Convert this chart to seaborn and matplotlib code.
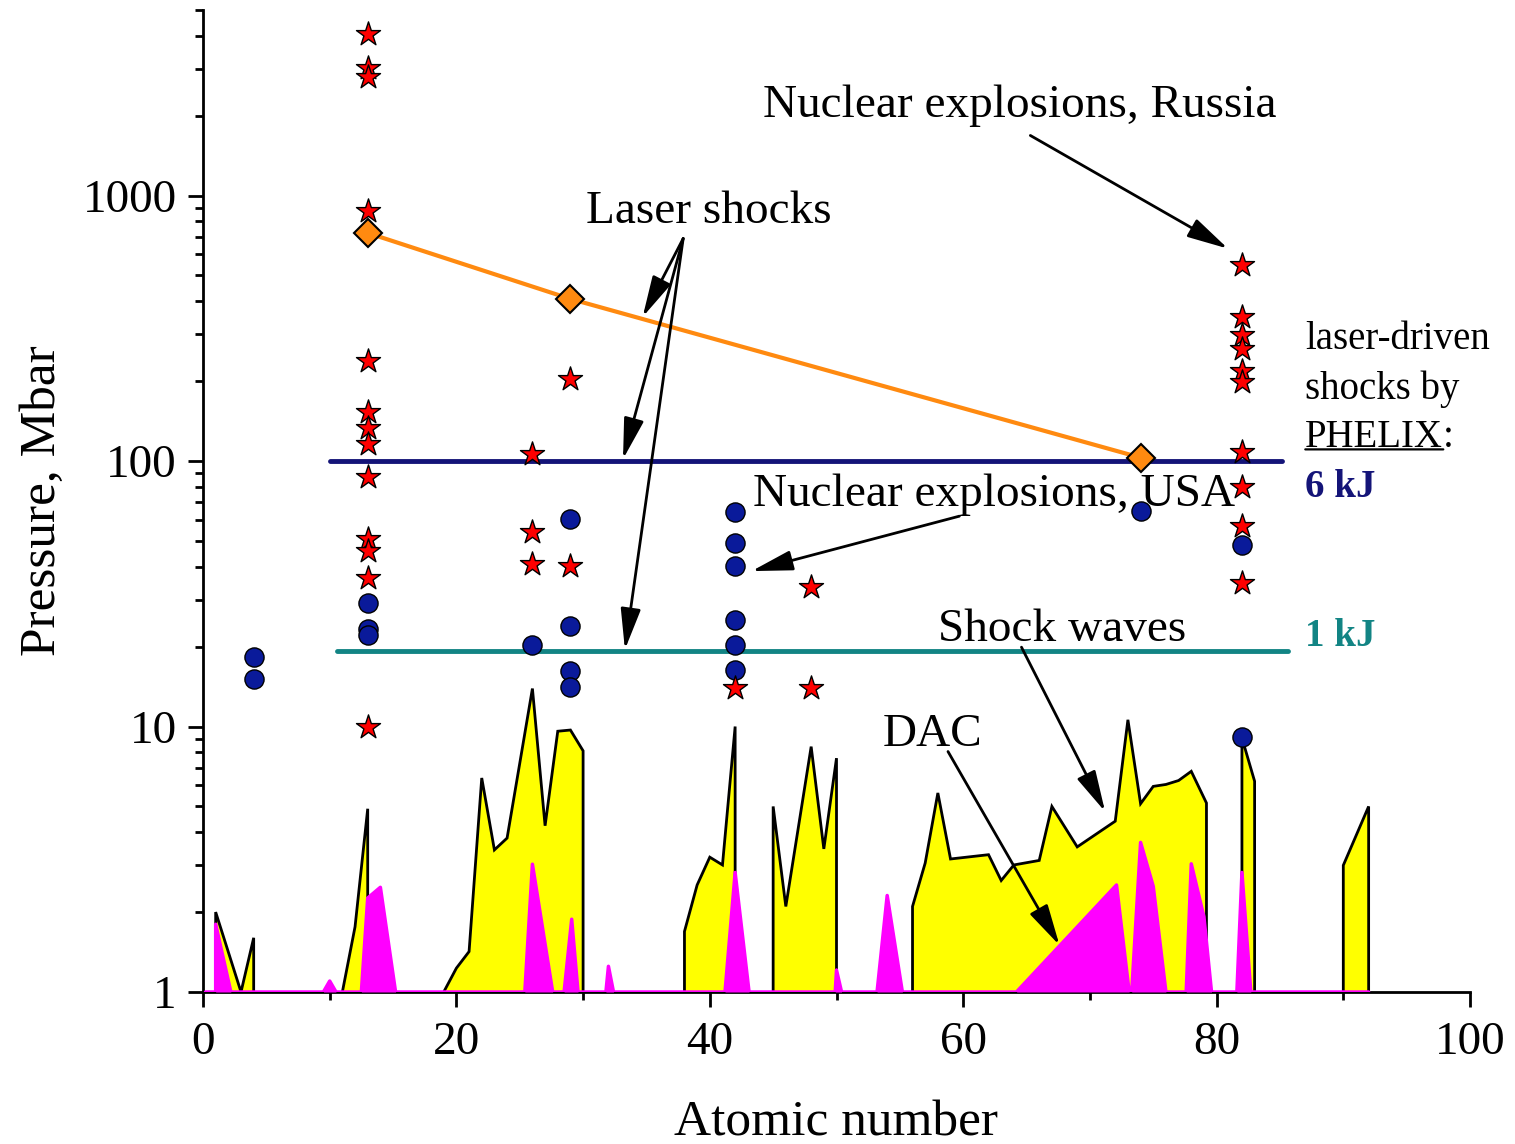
import numpy as np
import pandas as pd
import matplotlib
matplotlib.use("Agg")
import matplotlib.pyplot as plt
import seaborn as sns

# ---------------- data ----------------
# Shock-wave envelope (yellow area), NaN separates segments
shock_z = [1, 1, 3, 4, 4, np.nan,
           11, 12, 13, 13, np.nan,
           19, 20, 21, 22, 23, 24, 26, 27, 28, 29, 30, 30, np.nan,
           38, 38, 39, 40, 41, 42, 42, np.nan,
           45, 45, 46, 48, 49, 50, 50, np.nan,
           56, 56, 57, 58, 59, 62, 63, 64, 66, 67, 69, 72, 73, 74, 75, 76, 77, 78, 79.2, 79.2, np.nan,
           82, 82, 83, 83, np.nan,
           90, 90, 92, 92]
shock_p = [1, 2.0, 1.0, 1.6, 1, np.nan,
           1, 1.76, 4.9, 1, np.nan,
           1, 1.23, 1.42, 6.4, 3.43, 3.8, 13.9, 4.23, 9.6, 9.7, 8.1, 1, np.nan,
           1, 1.69, 2.53, 3.22, 3.01, 10.0, 1, np.nan,
           1, 5.0, 2.1, 8.4, 3.46, 7.6, 1, np.nan,
           1, 2.1, 3.06, 5.62, 3.17, 3.29, 2.63, 3.01, 3.13, 5.0, 3.52, 4.4, 10.6, 5.12, 5.95, 6.05, 6.26, 6.78, 5.15, 1, np.nan,
           1, 9.06, 6.22, 1, np.nan,
           1, 3.0, 5.0, 1]

# DAC (magenta area)
dac_z = [0.2, 1, 1, 2.2, 9.5, 10, 10.5, 12.5, 13, 14, 15.2, 25.4, 26, 27.6, 28.5, 29.1, 29.6,
         31.8, 32, 32.4, 41.2, 42, 43.1, 49.9, 50, 50.4, 53.2, 54, 55.2, 64.2, 72.1, 73.1,
         73.3, 74, 75, 76, 77.6, 78, 79, 79.6, 81.6, 82, 82.7, 92]
dac_p = [1, 1, 1.8, 1, 1, 1.1, 1, 1, 2.26, 2.48, 1, 1, 3.03, 1, 1, 1.88, 1,
         1, 1.25, 1, 1, 2.82, 1, 1, 1.21, 1, 1, 2.31, 1, 1, 2.53, 1,
         1, 3.66, 2.5, 1, 1, 3.04, 1.92, 1, 1, 2.82, 1, 1]

# Nuclear explosions, Russia (stars)
russia_z = [13] * 13 + [26] * 3 + [29] * 2 + [42] + [48] * 2 + [82] * 10
russia_p = [4055, 3014, 2805, 875, 239, 153.6, 132.8, 116, 86.8, 50.8, 45.9, 36.2, 10.0,
            106, 54.1, 41.1,
            204, 40.3,
            14.0,
            33.5, 14.0,
            546, 348, 299, 265, 219, 198, 108, 79.6, 57, 34.8]

# Nuclear explosions, USA (circles)
usa_z = [4, 4, 13, 13, 13, 26, 29, 29, 29, 29, 42, 42, 42, 42, 42, 42, 74, 82, 82]
usa_p = [18.2, 15.1, 29.1, 23.2, 22.2, 20.2, 60.4, 24.0, 16.2, 14.1,
         64.2, 49.1, 40.2, 25.2, 20.3, 16.3, 65, 48.2, 9.1]

# Laser shocks (diamonds)
laser_z = [13, 29, 74]
laser_p = [723, 408, 103]

# PHELIX levels
phelix_6kj = 100
phelix_1kj = 19.2
phelix_6kj_span = [10.0, 85.2]
phelix_1kj_span = [10.6, 85.6]

x_ticks = [0, 20, 40, 60, 80, 100]
y_ticks = [1, 10, 100, 1000]

# ---------------- style ----------------
sns.set_theme(style="ticks")
plt.rcParams['font.family'] = ['Liberation Serif', 'DejaVu Serif']
plt.rcParams['text.color'] = 'black'
plt.rcParams['axes.labelcolor'] = 'black'
plt.rcParams['xtick.color'] = 'black'
plt.rcParams['ytick.color'] = 'black'

YELLOW = "#ffff00"
MAGENTA = "#ff00ff"
RED = "#ff0000"
BLUE = "#0a1a9a"
ORANGE = "#ff8a10"
NAVY = "#141478"
TEAL = "#128484"

fig = plt.figure(figsize=(15.15, 11.44), dpi=100)
ax = fig.add_axes([203 / 1515, 1 - 992 / 1144, (1470 - 203) / 1515, (992 - 10) / 1144])
ax.set_yscale("log")
ax.set_xlim(0, 100)
ax.set_ylim(1, 5000)

# yellow shock-wave area
sz = np.array(shock_z, dtype=float)
sp = np.array(shock_p, dtype=float)
breaks = np.where(np.isnan(sz))[0]
starts = np.r_[0, breaks + 1]
ends = np.r_[breaks, len(sz)]
for s, e in zip(starts, ends):
    ax.fill_between(sz[s:e], 1, sp[s:e], color=YELLOW, lw=0, zorder=1)
ax.plot(sz, sp, color="black", lw=2.0, zorder=2, solid_joinstyle="miter")

# magenta DAC area
ax.fill_between(dac_z, 1, dac_p, color=MAGENTA, lw=0, zorder=3)
ax.plot(dac_z, dac_p, color=MAGENTA, lw=2.5, zorder=3)

# PHELIX horizontal levels
ax.plot(phelix_6kj_span, [phelix_6kj, phelix_6kj], color=NAVY, lw=3.5, zorder=4,
        solid_capstyle="round")
ax.plot(phelix_1kj_span, [phelix_1kj, phelix_1kj], color=TEAL, lw=3.5, zorder=4,
        solid_capstyle="round")

# laser shocks line
laser_df = pd.DataFrame({"z": laser_z, "p": laser_p})
sns.lineplot(data=laser_df, x="z", y="p", ax=ax, color=ORANGE, lw=3, zorder=5,
             marker="D", markersize=14, markerfacecolor=ORANGE,
             markeredgecolor="black", markeredgewidth=1.5)

# scatter points
usa_df = pd.DataFrame({"z": usa_z, "p": usa_p})
rus_df = pd.DataFrame({"z": russia_z, "p": russia_p})
sns.scatterplot(data=usa_df, x="z", y="p", ax=ax, marker="o", s=190, color=BLUE,
                edgecolor="black", linewidth=1.0, zorder=6)
sns.scatterplot(data=rus_df, x="z", y="p", ax=ax, marker="*", s=330, color=RED,
                edgecolor="black", linewidth=1.0, zorder=7)

# ---------------- axes ----------------
ax.set_xticks(x_ticks)
ax.set_xticks([10, 30, 50, 70, 90], minor=True)
ax.set_yticks(y_ticks)
ax.set_yticklabels([str(v) for v in y_ticks])
ax.set_xticklabels([str(v) for v in x_ticks])
ax.yaxis.set_minor_locator(matplotlib.ticker.LogLocator(base=10, subs=np.arange(2, 10)))
ax.yaxis.set_minor_formatter(matplotlib.ticker.NullFormatter())
ax.tick_params(axis="both", which="major", direction="out", length=11, width=2,
               labelsize=34, colors="black")
ax.tick_params(axis="both", which="minor", direction="out", length=6, width=2,
               colors="black")
ax.tick_params(axis="x", which="major", pad=10)
ax.tick_params(axis="y", which="major", pad=8)
for side in ["top", "right"]:
    ax.spines[side].set_visible(False)
for side in ["left", "bottom"]:
    ax.spines[side].set_linewidth(2)
    ax.spines[side].set_color("black")
ax.set_xlabel("Atomic number", fontsize=37, labelpad=26, color="black")
ax.set_ylabel("Pressure, Mbar", fontsize=37, labelpad=12, color="black")
ax.grid(False)

# ---------------- annotations ----------------
FS = 34
arrow = dict(arrowstyle="-|>,head_length=0.9,head_width=0.22", color="black", lw=2,
             shrinkA=0, shrinkB=0, mutation_scale=28)

ax.text(64.5, 2186, "Nuclear explosions, Russia", fontsize=FS, ha="center", va="center",
        zorder=8, color="black")
ax.annotate("", xy=(80.9, 631), xytext=(65.3, 1684), arrowprops=arrow, zorder=8)

ax.text(39.9, 871, "Laser shocks", fontsize=FS, ha="center", va="center", zorder=8,
        color="black")
for hx, hy in [(34.7, 349), (33.15, 101.7), (33.3, 19.5)]:
    ax.annotate("", xy=(hx, hy), xytext=(37.9, 689), arrowprops=arrow, zorder=8)

ax.text(62.4, 74.4, "Nuclear explosions, USA", fontsize=FS, ha="center", va="center",
        zorder=5, color="black")
ax.annotate("", xy=(43.3, 38.5), xytext=(59.7, 62), arrowprops=arrow, zorder=8)

ax.text(67.8, 23.2, "Shock waves", fontsize=FS, ha="center", va="center", zorder=8,
        color="black")
ax.annotate("", xy=(71.2, 4.78), xytext=(64.6, 19.9), arrowprops=arrow, zorder=8)

ax.text(57.6, 9.33, "DAC", fontsize=FS, ha="center", va="center", zorder=8, color="black")
ax.annotate("", xy=(67.6, 1.5), xytext=(58.8, 8.05), arrowprops=arrow, zorder=8)

# PHELIX side text
RFS = 28
ax.text(87.0, 288, "laser-driven", fontsize=RFS, ha="left", va="center", clip_on=False,
        color="black")
ax.text(87.0, 187, "shocks by", fontsize=RFS, ha="left", va="center", clip_on=False,
        color="black")
t_ph = ax.text(87.0, 123, "PHELIX", fontsize=RFS, ha="left", va="center", clip_on=False,
               color="black")
ax.annotate(":", xy=(1, 0.5), xycoords=t_ph, fontsize=RFS, ha="left", va="center",
            color="black")
ax.annotate("", xy=(0, 0.17), xycoords=t_ph, xytext=(1, 0.17), textcoords=t_ph,
            arrowprops=dict(arrowstyle="-", color="black", lw=1.6, shrinkA=0, shrinkB=0))
ax.text(87.0, 79.8, "6 kJ", fontsize=RFS, fontweight="bold", color=NAVY, ha="left",
        va="center", clip_on=False)
ax.text(87.0, 21.9, "1 kJ", fontsize=RFS, fontweight="bold", color=TEAL, ha="left",
        va="center", clip_on=False)

fig.savefig("out.png", dpi=100)
